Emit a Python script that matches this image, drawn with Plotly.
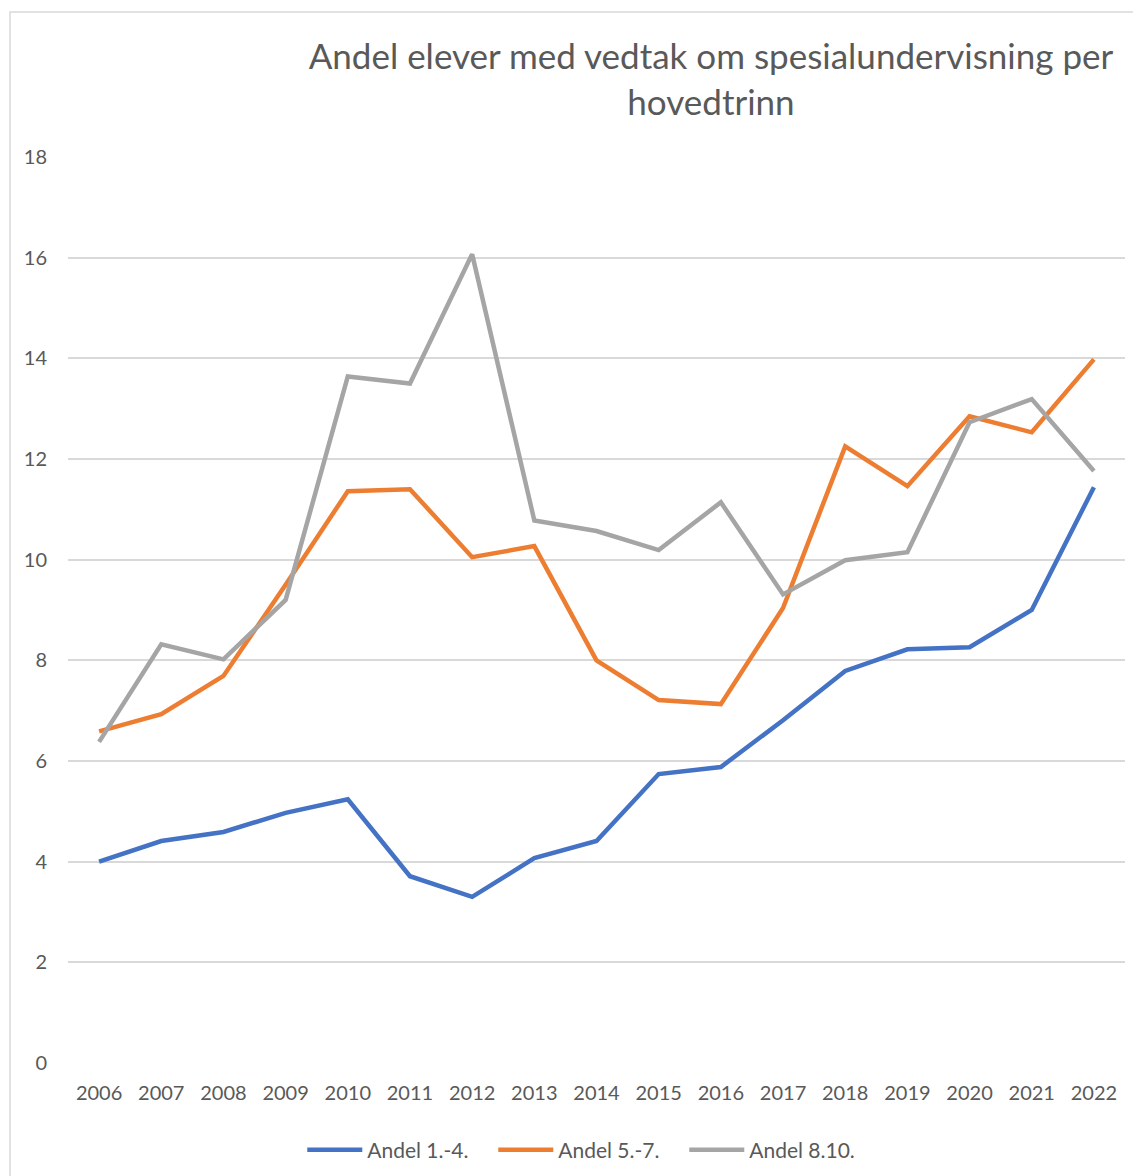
import plotly.graph_objects as go

years = list(range(2006, 2023))
tick_labels = [str(y) for y in years]
andel_1_4 = [4.00, 4.41, 4.59, 4.97, 5.24, 3.71, 3.30, 4.07, 4.41, 5.74, 5.88, 6.81, 7.79, 8.22, 8.26, 9.00, 11.44]
andel_5_7 = [6.59, 6.93, 7.69, 9.50, 11.36, 11.40, 10.05, 10.27, 8.00, 7.21, 7.13, 9.04, 12.25, 11.46, 12.85, 12.53, 13.98]
andel_8_10 = [6.38, 8.32, 8.02, 9.20, 13.64, 13.50, 16.07, 10.78, 10.57, 10.19, 11.14, 9.31, 9.99, 10.15, 12.73, 13.19, 11.76]

series = [
    ("Andel 1.-4.", andel_1_4, "#4472C4"),
    ("Andel 5.-7.", andel_5_7, "#ED7D31"),
    ("Andel 8.10.", andel_8_10, "#A5A5A5"),
]

FONT = "Lato"
TXT = "#595959"
W, H = 1133, 1168  # page body has an 8px margin

fig = go.Figure()
for name, vals, col in series:
    fig.add_trace(go.Scatter(x=years, y=vals, name=name, mode="lines",
                             line=dict(color=col, width=4.5)))

fig.update_layout(
    width=W, height=H,
    margin=dict(l=60, r=16, t=149, b=113, autoexpand=False),
    paper_bgcolor="white", plot_bgcolor="white",
    font=dict(family=FONT, color=TXT, size=20),
    title=dict(text="Andel elever med vedtak om spesialundervisning per<br>hovedtrinn",
               x=703/W, xanchor="center", xref="container",
               y=1-61/H, yanchor="middle", yref="container",
               font=dict(family=FONT, size=35, color=TXT)),
    showlegend=True,
    legend=dict(orientation="h", x=0.4927, xanchor="center",
                y=1-1142/H, yanchor="middle", yref="container",
                font=dict(family=FONT, size=21, color=TXT), itemwidth=55,
                entrywidth=121, traceorder="normal"),
    xaxis=dict(range=[2005.5, 2022.5], tickmode="array", tickvals=years, ticktext=tick_labels,
               showgrid=False, zeroline=False, showline=False, ticks="",
               tickfont=dict(family=FONT, size=20, color=TXT), ticklabelstandoff=16),
    yaxis=dict(range=[0, 18], dtick=2, showgrid=True, gridcolor="#D9D9D9", gridwidth=1.5,
               zeroline=False, showline=False, ticks="",
               tickfont=dict(family=FONT, size=20, color=TXT), ticklabelstandoff=20),
)

fig.add_shape(type="rect", xref="paper", yref="paper",
              x0=(2-60)/1057, x1=(1150-60)/1057, y0=-0.2, y1=(1055-4)/906,
              line=dict(color="#D9D9D9", width=1.5), fillcolor="rgba(0,0,0,0)", layer="below")

fig.write_html("out.html")
